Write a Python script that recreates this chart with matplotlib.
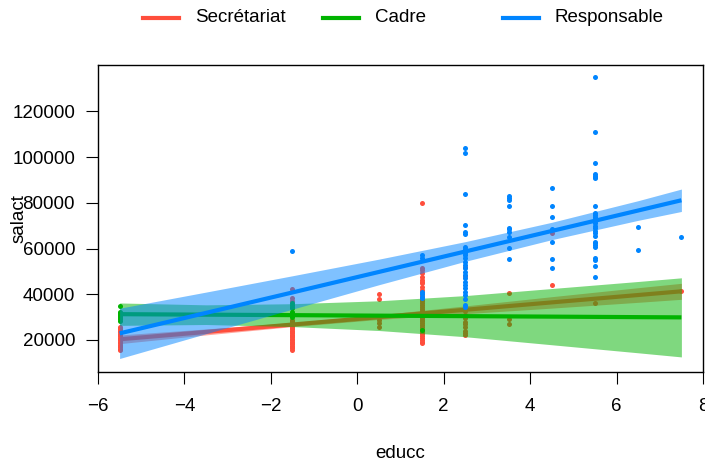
import matplotlib.pyplot as plt
from matplotlib.lines import Line2D

plt.rcParams['font.family'] = ['Liberation Sans', 'DejaVu Sans']
plt.rcParams['font.size'] = 13.5

# groups and colours
groups = ['Secrétariat', 'Cadre', 'Responsable']
colors = ['#FF4E3C', '#00B300', '#0085FF']

# observed points (educc, salact)
sec_x = [-5.5]*18 + [-1.5]*26 + [0.5]*5 + [1.5]*39 + [2.5]*12 + [3.5]*3 + [4.5]*2 + [5.5] + [7.5]
sec_y = [15750, 16200, 16800, 17400, 18000, 18600, 19200, 19800, 20400, 21000, 21600, 22200,
         22800, 23400, 24000, 24600, 25200, 25800,
         15750, 16300, 16900, 17500, 18100, 18700, 19300, 19900, 20500, 21100, 21700, 22300,
         22900, 23500, 24100, 24700, 25300, 25900, 26500, 27100, 27700, 28300, 28900, 37200,
         38250, 42300,
         25800, 27300, 28750, 38100, 40100,
         18550, 19300, 20100, 20900, 21700, 22500, 23300, 24100, 24900, 25700, 26500, 27300,
         28100, 28900, 29700, 30500, 31300, 32100, 32900, 33700, 34500, 35300, 36100, 36900,
         37700, 38500, 39300, 40100, 40900, 41900, 43300, 44800, 45500, 46300, 47500, 49500,
         50600, 51500, 80000,
         22200, 23000, 24000, 25500, 27000, 28000, 29500, 31000, 32500, 34000, 48000, 52000,
         27100, 29200, 40400,
         44000, 66800,
         36000,
         41500]

cad_x = [-5.5]*10 + [-1.5]*9 + [1.5]
cad_y = [28500, 29000, 29500, 30000, 30500, 31000, 31500, 32000, 32400, 34900,
         30200, 30700, 31200, 31700, 32400, 33900, 34500, 35200, 36000,
         24400]

resp_x = [-1.5] + [1.5]*6 + [2.5]*26 + [3.5]*10 + [4.5]*7 + [5.5]*27 + [6.5]*2 + [7.5]
resp_y = [59000,
          38250, 39000, 40000, 41100, 55750, 57200,
          34570, 35500, 37810, 39690, 41140, 42620, 44070, 45510, 47000, 48450, 49890, 51380,
          52820, 54260, 55750, 57200, 58200, 59080, 60000, 60830, 66390, 67130, 70320, 84020,
          101700, 103900,
          55310, 60130, 65200, 67390, 68440, 69140, 78770, 81260, 82270, 83000,
          51640, 55300, 62750, 68440, 73960, 78500, 86500,
          47700, 52380, 55010, 55750, 60560, 61440, 62310, 62880, 65640, 66690, 67830, 68880,
          70020, 71070, 71940, 72950, 73960, 74700, 75440, 78500, 90760, 91200, 91770, 92500,
          97320, 111000, 135000,
          59520, 69450,
          65200]

# fitted lines and confidence bands
fit_x = [-5.5, -3.5, -1.5, 0.5, 2.5, 4.5, 6.5, 7.5]
sec_fit = [20300, 23530, 26760, 30000, 33220, 36450, 39680, 41300]
sec_lo = [18400, 22230, 25860, 29000, 31520, 33950, 36480, 37800]
sec_hi = [22200, 24830, 27660, 31000, 34920, 38950, 42880, 44800]
cad_fit = [31300, 31080, 30870, 30650, 30430, 30220, 30000, 29900]
cad_lo = [26400, 26780, 25870, 24150, 21430, 17920, 14400, 12600]
cad_hi = [36200, 35380, 35870, 37150, 39430, 42520, 45600, 47200]
resp_fit = [22900, 31860, 40800, 49770, 58730, 67690, 76650, 81130]
resp_lo = [11900, 22760, 33500, 44170, 54430, 63890, 72350, 76230]
resp_hi = [33900, 40960, 48100, 55370, 63030, 71490, 80950, 86030]

pts = [(sec_x, sec_y), (cad_x, cad_y), (resp_x, resp_y)]
fits = [(sec_fit, sec_lo, sec_hi), (cad_fit, cad_lo, cad_hi), (resp_fit, resp_lo, resp_hi)]

fig = plt.figure(figsize=(7.05, 4.63), dpi=100)
ax = fig.add_axes([98/705, 1-372/463, 605/705, 307/463])

# each group: points, then band, then line, stacked in that order
z = 1
for (px, py), (f, lo, hi), c in zip(pts, fits, colors):
    ax.scatter(px, py, s=13, color=c, linewidths=0, zorder=z)
    ax.fill_between(fit_x, lo, hi, color=c, alpha=0.5, linewidth=0, zorder=z+1)
    ax.plot(fit_x, f, color=c, lw=3, solid_capstyle='butt', zorder=z+2)
    z += 3

ax.set_xlim(-6, 8)
ax.set_ylim(6000, 140300)
ax.set_xticks(range(-6, 9, 2))
ax.set_yticks(range(20000, 120001, 20000))
ax.tick_params(direction='out', length=8.5, width=0.8, pad=8)
ax.tick_params(axis='x', pad=10)
for s in ax.spines.values():
    s.set_linewidth(1)
    s.set_zorder(20)

ax.set_xlabel('educc')
ax.xaxis.label.set_va('center')
ax.xaxis.set_label_coords(0.5, (372-453)/307)
ax.set_ylabel('salact')
ax.yaxis.label.set_va('center')
ax.yaxis.set_label_coords((19-98)/605, 0.5)

# legend along the top
for i, (lab, c) in enumerate(zip(groups, colors)):
    x0 = 143 + 180*i
    fig.add_artist(Line2D([x0/705, (x0+36)/705], [1-18/463]*2, color=c, lw=3))
    fig.text((x0+52)/705, 1-18/463, lab, va='center', ha='left')

fig.savefig('out.png', dpi=100)
